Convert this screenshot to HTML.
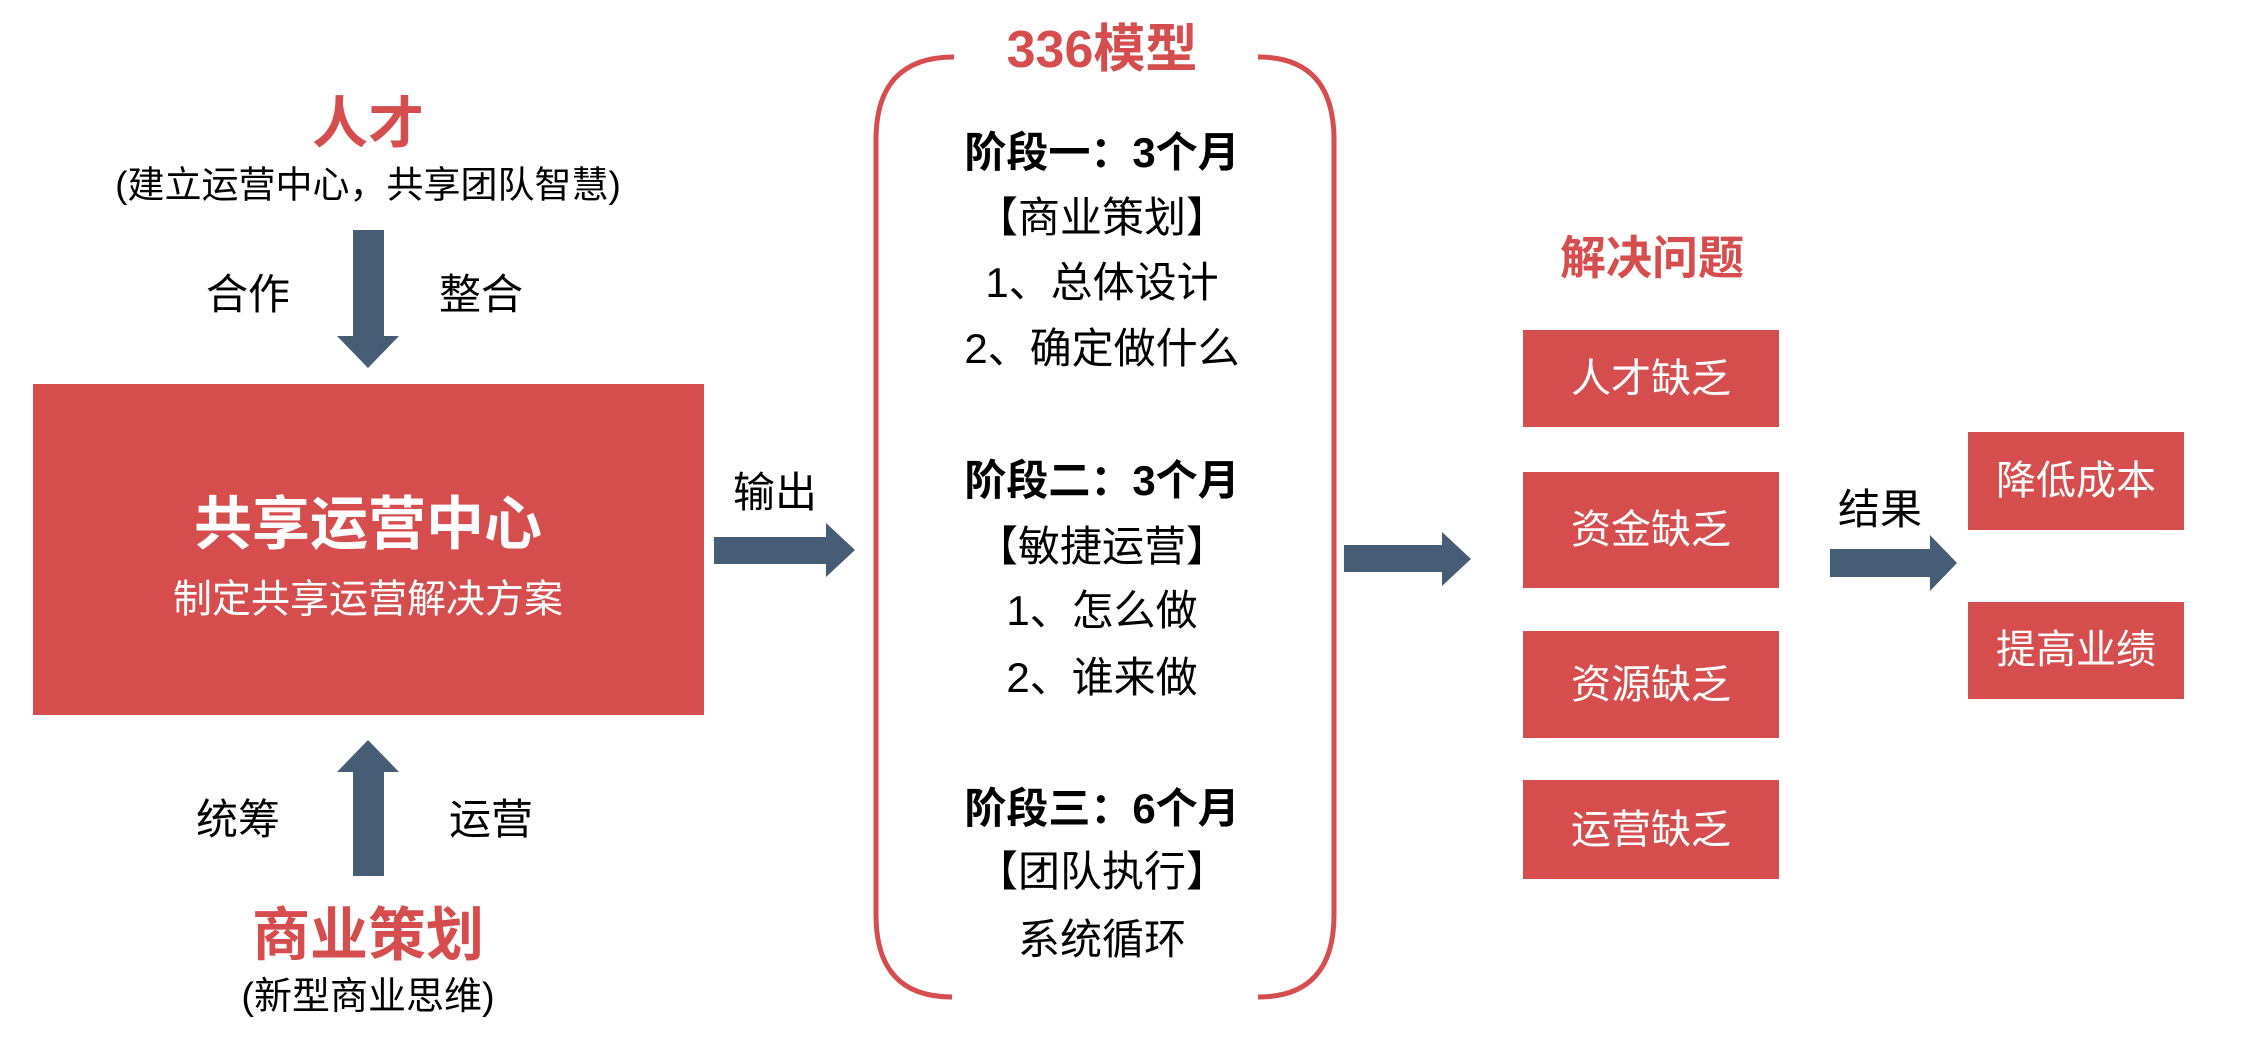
<!DOCTYPE html>
<html><head><meta charset="utf-8"><style>
body{margin:0;width:2245px;height:1052px;background:#fff;position:relative;overflow:hidden;font-family:"Liberation Sans","Noto Sans CJK SC",sans-serif;}
.t{position:absolute;transform:translate(-50%,-50%);white-space:nowrap;line-height:1;}
.r{color:#d64d4d;font-weight:bold;}
.w{color:#fff;}
.b{font-weight:bold;}
</style></head><body>
<svg width="2245" height="1052" style="position:absolute;left:0;top:0">
<g fill="#d64d4d">
<rect x="33" y="384" width="671" height="331"/>
<rect x="1523" y="330" width="256" height="97"/>
<rect x="1523" y="472" width="256" height="116"/>
<rect x="1523" y="631" width="256" height="107"/>
<rect x="1523" y="780" width="256" height="99"/>
<rect x="1968" y="432" width="216" height="98"/>
<rect x="1968" y="602" width="216" height="97"/>
</g>
<g fill="#465d76">
<polygon points="353,230 384,230 384,336 399,336 368,368 337,336 353,336"/>
<polygon points="368,740 399,772 384,772 384,876 353,876 353,772 337,772"/>
<polygon points="714,537 826,537 826,523 855,550 826,577 826,564 714,564"/>
<polygon points="1344,545 1442,545 1442,532 1471,559 1442,586 1442,572 1344,572"/>
<polygon points="1830,549 1930,549 1930,535 1957,563 1930,591 1930,577 1830,577"/>
</g>
<g fill="none" stroke="#d64d4d" stroke-width="5">
<path d="M952,57 L954,57 Q876,57 876,140 L876,915 Q876,997 952,997"/>
<path d="M1258,57 Q1334,57 1334,140 L1334,915 Q1334,997 1258,997"/>
</g>
</svg>
<div class="t r" style="left:368px;top:124px;font-size:56px">人才</div>
<div class="t" style="left:368px;top:185px;font-size:37px">(建立运营中心，共享团队智慧)</div>
<div class="t" style="left:248px;top:295px;font-size:42px">合作</div>
<div class="t" style="left:481px;top:295px;font-size:42px">整合</div>
<div class="t w b" style="left:368px;top:525px;font-size:58px">共享运营中心</div>
<div class="t w" style="left:368px;top:600px;font-size:39px">制定共享运营解决方案</div>
<div class="t" style="left:238px;top:820px;font-size:42px">统筹</div>
<div class="t" style="left:491px;top:820px;font-size:42px">运营</div>
<div class="t r" style="left:368px;top:936px;font-size:58px">商业策划</div>
<div class="t" style="left:368px;top:997px;font-size:38px">(新型商业思维)</div>
<div class="t" style="left:775px;top:493px;font-size:42px">输出</div>
<div class="t r" style="left:1102px;top:50px;font-size:52px">336模型</div>
<div class="t b" style="left:1102px;top:153px;font-size:42px">阶段一：3个月</div>
<div class="t" style="left:1102px;top:218px;font-size:42px">【商业策划】</div>
<div class="t" style="left:1102px;top:283px;font-size:42px">1、总体设计</div>
<div class="t" style="left:1102px;top:349px;font-size:42px">2、确定做什么</div>
<div class="t b" style="left:1102px;top:481px;font-size:42px">阶段二：3个月</div>
<div class="t" style="left:1102px;top:547px;font-size:42px">【敏捷运营】</div>
<div class="t" style="left:1102px;top:611px;font-size:42px">1、怎么做</div>
<div class="t" style="left:1102px;top:678px;font-size:42px">2、谁来做</div>
<div class="t b" style="left:1102px;top:809px;font-size:42px">阶段三：6个月</div>
<div class="t" style="left:1102px;top:872px;font-size:42px">【团队执行】</div>
<div class="t" style="left:1102px;top:940px;font-size:42px">系统循环</div>
<div class="t r" style="left:1652px;top:258px;font-size:46px">解决问题</div>
<div class="t w" style="left:1651px;top:379px;font-size:40px">人才缺乏</div>
<div class="t w" style="left:1651px;top:530px;font-size:40px">资金缺乏</div>
<div class="t w" style="left:1651px;top:685px;font-size:40px">资源缺乏</div>
<div class="t w" style="left:1651px;top:830px;font-size:40px">运营缺乏</div>
<div class="t" style="left:1880px;top:510px;font-size:42px">结果</div>
<div class="t w" style="left:2076px;top:481px;font-size:40px">降低成本</div>
<div class="t w" style="left:2076px;top:650px;font-size:40px">提高业绩</div>
</body></html>
